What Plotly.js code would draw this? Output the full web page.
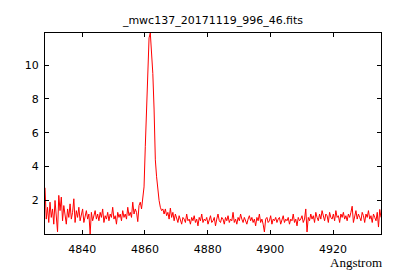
<!DOCTYPE html>
<html>
<head>
<meta charset="utf-8">
<script src="https://cdn.plot.ly/plotly-3.0.1.min.js"></script>
<style>html,body{margin:0;padding:0;background:#fff;}#chart{width:400px;height:280px;}</style>
</head>
<body>
<div id="chart"></div>
<script>
// Spectrum: wavelength start and step (Angstrom)
var lambdaStart = 4828.1;
var lambdaStep = 0.4;

// Flux values, in order of wavelength
var fluxBlueSide = [2.75,0.9,1.6,0.7,1.9,1.0,1.5,0.6,2.0,1.2,
  0.15,2.3,1.4,2.2,0.8,1.7,1.1,0.6,1.5,1.0,
  1.8,0.9,1.3,2.1,0.7,1.4,1.0,1.6,0.8,1.2,
  1.5,0.7,1.1,1.4,0.9,1.2,0.02,1.3,0.8,1.1,
  1.4,0.9,1.2];
var fluxPreLine = [0.8,1.3,1.0,1.5,0.7,1.1,0.9,1.3,0.8,1.2,
  1.0,1.6,0.9,1.1,0.6,1.3,1.0,1.2,0.8,1.4,
  1.0,1.2,0.9,1.6,1.1,1.3,1.0,1.9,1.2,1.5,
  1.3,0.75,1.7];
var fluxLine = [1.9,1.5,2.2,2.8,5.2,7.4,10.0,11.6,11.89,10.8,9.5,7.4,4.4,3.4,2.6,2.0,1.6,1.4,1.5,1.2];
var fluxWing = [1.5,1.1,1.3,0.9,1.55,1.0,1.3,0.8,1.2];
var fluxContinuum = [0.9,
  0.7,1.1,0.8,0.6,1.0,0.9,0.7,1.2,0.8,
  0.9,0.6,1.0,0.8,1.1,0.7,0.9,0.5,1.0,0.8,
  1.2,0.7,0.9,0.8,1.0,0.6,0.9,1.1,0.7,0.8,
  1.0,0.5,0.9,1.2,0.8,0.7,1.0,0.9,0.6,1.0,
  0.8,1.1,0.7,0.9,0.8,1.3,0.7,0.9,0.6,1.0,
  0.8,1.2,0.9,0.7,1.0,0.8,0.6,0.9,1.1,0.8,
  1.0,0.7,0.9,0.5,1.0,0.8,1.2,0.7,0.9,0.6,
  0.14,0.9,1.0,0.7,0.8,1.1,0.6,0.9,0.8,1.0,
  0.7,0.9,1.0,0.6,0.8,1.1,0.7,0.9,0.8,1.0,
  0.6,0.9,0.8,1.2,0.7,0.9,0.5,1.0,0.8,0.9,
  1.1,0.7,0.9,1.5,0.14,1.0];
var fluxRedSide = [0.8,
  1.2,0.9,1.1,0.7,1.3,1.0,0.8,1.2,0.9,
  1.4,1.0,0.8,1.2,1.1,0.7,1.3,1.0,0.9,1.2,
  0.8,1.4,1.0,1.1,0.7,1.2,1.0,1.3,0.9,1.1,
  0.8,1.2,1.0,1.3,1.66,0.7,1.1,1.4,0.9,1.2,
  1.0,0.8,1.3,1.1,0.7,1.2,1.0,1.4,0.9,1.1,
  0.7,1.2,1.0,0.8,1.3,0.43,1.47,1.0];

var flux = [].concat(fluxBlueSide, fluxPreLine, fluxLine, fluxWing, fluxContinuum, fluxRedSide);

var xTicks = [4840, 4860, 4880, 4900, 4920];
var yTicks = [2, 4, 6, 8, 10];
var titleText = '_mwc137_20171119_996_46.fits';
var xLabel = 'Angstrom';

var lastLambda = lambdaStart + lambdaStep * (flux.length - 1);

var trace = {
  type: 'scatter', mode: 'lines',
  y: flux, x0: lambdaStart, dx: lambdaStep,
  line: {color: 'rgb(255,0,0)', width: 1},
  hoverinfo: 'none'
};

var axisCommon = {
  showline: true, linecolor: '#000', linewidth: 1, mirror: 'ticks',
  ticks: 'inside', ticklen: 4, tickwidth: 1, tickcolor: '#000',
  showgrid: false, zeroline: false,
  tickfont: {family: 'DejaVu Sans', size: 11, color: '#000'}
};

var layout = {
  width: 400, height: 280,
  margin: {l: 45, r: 19, t: 33, b: 46, pad: 0},
  paper_bgcolor: '#fff', plot_bgcolor: '#fff',
  showlegend: false,
  title: {text: titleText, font: {family: 'DejaVu Sans', size: 11, color: '#000'},
          x: 0.5, xref: 'paper', y: 1 - 20/280, yref: 'container', yanchor: 'middle'},
  xaxis: Object.assign({}, axisCommon, {range: [lambdaStart, lastLambda], tickmode: 'array', tickvals: xTicks, ticktext: xTicks.map(String), ticklabelstandoff: 5}),
  yaxis: Object.assign({}, axisCommon, {range: [0.02, 11.89], tickmode: 'array', tickvals: yTicks, ticktext: yTicks.map(String), ticklabelstandoff: 3}),
  annotations: [{
    text: xLabel, showarrow: false, xref: 'paper', yref: 'paper',
    x: 1, xanchor: 'right', xshift: 3, y: -0.14, yanchor: 'middle',
    font: {family: 'Liberation Serif', size: 13, color: '#000'}
  }]
};

Plotly.newPlot('chart', [trace], layout, {displayModeBar: false, staticPlot: true});
</script>
</body>
</html>
